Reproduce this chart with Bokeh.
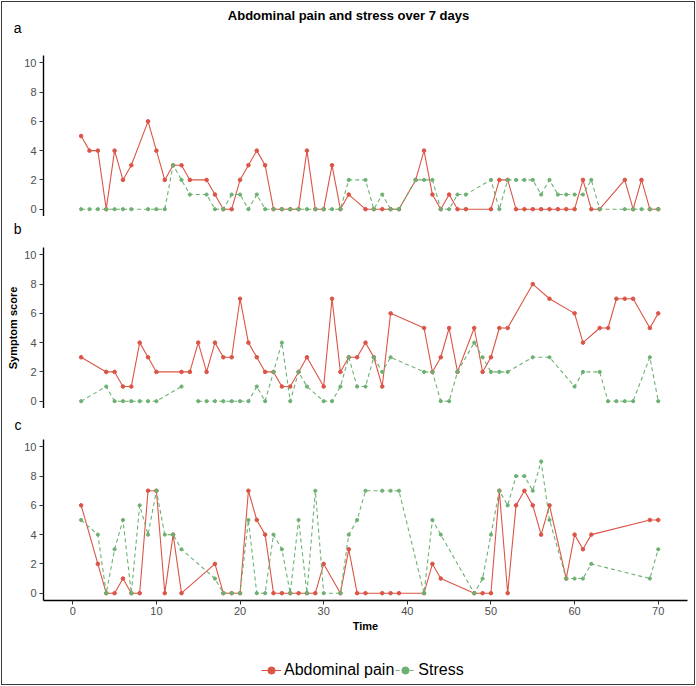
from bokeh.plotting import figure
from bokeh.models import Label, Legend, LegendItem, FixedTicker, Range1d
from bokeh.layouts import column
from bokeh.embed import file_html
from bokeh.resources import INLINE

nan = float("nan")

# ---------------- data ----------------
time_a = [1, 2, 3, 4, 5, 6, 7, 9, 10, 11, 12, 13, 14, 16, 17, 18, 19, 20, 21, 22, 23, 24,
          25, 26, 27, 28, 29, 30, 31, 32, 33, 35, 36, 37, 38, 39, 41, 42, 43, 44, 45, 46,
          47, 50, 51, 52, 53, 54, 55, 56, 57, 58, 59, 60, 61, 62, 63, 66, 67, 68, 69, 70]
pain_a = [5, 4, 4, 0, 4, 2, 3, 6, 4, 2, 3, 3, 2, 2, 1, 0, 0, 2, 3, 4, 3, 0,
          0, 0, 0, 4, 0, 0, 3, 0, 1, 0, 0, 0, 0, 0, 2, 4, 1, 0, 1, 0,
          0, 0, 2, 2, 0, 0, 0, 0, 0, 0, 0, 0, 2, 0, 0, 2, 0, 2, 0, 0]
stress_a = [0, 0, 0, 0, 0, 0, 0, 0, 0, 0, 3, 2, 1, 1, 0, 0, 1, 1, 0, 1, 0, 0,
            0, 0, 0, 0, 0, 0, 0, 0, 2, 2, 0, 1, 0, 0, 2, 2, 2, 0, 0, 1,
            1, 2, 0, 2, 2, 2, 2, 1, 2, 1, 1, 1, 1, 2, 0, 0, 0, 0, 0, 0]

time_b = [1, 4, 5, 6, 7, 8, 9, 10, 13, 14, 15, 16, 17, 18, 19, 20, 21, 22, 23, 24, 25,
          26, 27, 28, 30, 31, 32, 33, 34, 35, 36, 37, 38, 42, 43, 44, 45, 46, 48, 49,
          50, 51, 52, 55, 57, 60, 61, 63, 64, 65, 66, 67, 69, 70]
pain_b = [3, 2, 2, 1, 1, 4, 3, 2, 2, 2, 4, 2, 4, 3, 3, 7, 4, 3, 2, 2, 1,
          1, 2, 3, 1, 7, 2, 3, 3, 4, 3, 1, 6, 5, 2, 3, 5, 2, 5, 2,
          3, 5, 5, 8, 7, 6, 4, 5, 5, 7, 7, 7, 5, 6]
stress_b = [0, 1, 0, 0, 0, 0, 0, 0, 1, nan, 0, 0, 0, 0, 0, 0, 0, 1, 0, 2, 4,
            0, 2, 1, 0, 0, 1, 3, 1, 1, 3, 2, 3, 2, 2, 0, 0, 2, 4, 3,
            2, 2, 2, 3, 3, 1, 2, 2, 0, 0, 0, 0, 3, 0]

time_c = [1, 3, 4, 5, 6, 7, 8, 9, 10, 11, 12, 13, 17, 18, 19, 20, 21, 22, 23, 24, 25,
          26, 27, 28, 29, 30, 32, 33, 34, 35, 37, 38, 39, 42, 43, 44, 48, 49, 50, 51,
          52, 53, 54, 55, 56, 57, 59, 60, 61, 62, 69, 70]
pain_c = [6, 2, 0, 0, 1, 0, 0, 7, 7, 0, 4, 0, 2, 0, 0, 0, 7, 5, 4, 0, 0,
          0, 0, 0, 0, 2, 0, 3, 0, 0, 0, 0, 0, 0, 2, 1, 0, 0, 0, 7,
          0, 6, 7, 6, 4, 6, 1, 4, 3, 4, 5, 5]
stress_c = [5, 4, 0, 3, 5, 0, 6, 4, 7, 4, 4, 3, 1, 0, 0, 0, 5, 0, 0, 4, 3,
            0, 5, 0, 7, 0, 0, 4, 5, 7, 7, 7, 7, 0, 5, 4, 0, 1, 4, 7,
            6, 8, 8, 7, 9, 5, 1, 1, 1, 2, 1, 3]

y_ticks = [0, 2, 4, 6, 8, 10]
x_ticks = [0, 10, 20, 30, 40, 50, 60, 70]
panel_labels = ["a", "b", "c"]
title_text = "Abdominal pain and stress over 7 days"
series_names = ["Abdominal pain", "Stress"]

RED = "#DB5546"
GREEN = "#6DB172"
FONT = "Liberation Sans"
W = 696
FL, FR = 43, 687   # frame left / right in page pixels


def clear_fill(p):
    p.border_fill_alpha = 0
    p.background_fill_alpha = 0
    p.outline_line_color = None
    p.grid.visible = False


def style_axis(ax, standoff):
    ax.axis_line_color = "black"
    ax.axis_line_width = 1.4
    ax.major_tick_line_color = "#333333"
    ax.major_tick_line_width = 1
    ax.major_tick_out = 4
    ax.major_tick_in = 0
    ax.minor_tick_line_color = None
    ax.major_label_text_color = "#4d4d4d"
    ax.major_label_text_font = FONT
    ax.major_label_text_font_size = "11px"
    ax.major_label_standoff = standoff
    ax.axis_label_text_font = FONT
    ax.axis_label_text_font_style = "bold"
    ax.axis_label_text_font_size = "11px"
    ax.axis_label_text_color = "black"


def make_panel(height, bottom, show_x):
    p = figure(width=W, height=height,
               x_range=Range1d(-3.5, 73.5), y_range=Range1d(-0.5, 10.5),
               output_backend="svg", toolbar_location=None,
               x_axis_location="below" if show_x else None,
               min_border_left=FL, min_border_right=W - FR,
               min_border_top=0, min_border_bottom=bottom)
    clear_fill(p)
    p.yaxis.ticker = FixedTicker(ticks=y_ticks)
    style_axis(p.yaxis[0], 3)
    if show_x:
        p.xaxis.ticker = FixedTicker(ticks=x_ticks)
        style_axis(p.xaxis[0], 2)
    return p


def add_series(p, t, pain, stress, y_range_name="default"):
    r1 = p.line(t, pain, line_color=RED, line_width=1.1, y_range_name=y_range_name)
    r2 = p.scatter(t, pain, size=3.6, fill_color=RED, line_color=RED, y_range_name=y_range_name)
    r3 = p.line(t, stress, line_color=GREEN, line_width=1.1, line_dash="4 3", y_range_name=y_range_name)
    r4 = p.scatter(t, stress, size=3.2, fill_color=GREEN, line_color=GREEN, y_range_name=y_range_name)
    return [r1, r2], [r3, r4]


def strip(height, label=None, label_y=None):
    # a strip whose y data coordinate is its own pixel row (from the top);
    # a panel letter is shown as the single tick label of a hidden left axis
    p = figure(width=W, height=height, x_range=Range1d(FL, FR),
               y_range=Range1d(height, 0),
               output_backend="svg", toolbar_location=None,
               x_axis_location=None,
               y_axis_location="left" if label else None,
               min_border_left=FL, min_border_right=W - FR,
               min_border_top=0, min_border_bottom=0)
    clear_fill(p)
    if label:
        ax = p.yaxis[0]
        ax.ticker = FixedTicker(ticks=[label_y])
        ax.major_label_overrides = {label_y: label}
        ax.axis_line_color = None
        ax.major_tick_line_color = None
        ax.minor_tick_line_color = None
        ax.major_tick_out = 0
        ax.major_label_standoff = FL - 21
        ax.major_label_text_font = FONT
        ax.major_label_text_font_size = "14px"
        ax.major_label_text_color = "black"
    return p


# top strip: main title + "a"
s_top = strip(55, panel_labels[0], 27)
s_top.add_layout(Label(x=348, y=15, text=title_text, text_font=FONT, text_font_size="13px",
                       text_font_style="bold", text_color="black",
                       text_align="center", text_baseline="middle"))

pa = make_panel(161, 0, False)
add_series(pa, time_a, pain_a, stress_a)

s_ab = strip(31, panel_labels[1], 12)

pb = make_panel(161, 0, False)
add_series(pb, time_b, pain_b, stress_b)
pb.yaxis.axis_label = "Symptom score"
pb.yaxis.axis_label_standoff = 2

s_bc = strip(31, panel_labels[2], 16)

pc = make_panel(201, 40, True)
add_series(pc, time_c, pain_c, stress_c)
pc.xaxis.axis_label = "Time"
pc.xaxis.axis_label_standoff = 2

# legend strip (its renderers draw the panel-c series on an off-screen range)
s_leg = strip(46)
s_leg.x_range = Range1d(-3.5, 73.5)
s_leg.y_range = Range1d(0, 46)
s_leg.extra_y_ranges = {"off": Range1d(100, 110)}
red_r, green_r = add_series(s_leg, time_c, pain_c, stress_c, y_range_name="off")
legend = Legend(items=[LegendItem(label=series_names[0], renderers=red_r),
                       LegendItem(label=series_names[1], renderers=green_r)],
                orientation="horizontal", location=(261 - FL, 7),
                label_text_font=FONT, label_text_font_size="16px",
                label_text_color="black",
                glyph_width=20, glyph_height=18, label_height=18,
                label_standoff=3, spacing=1, padding=2, margin=0,
                border_line_color=None, background_fill_alpha=0)
s_leg.add_layout(legend, "center")

layout = column(s_top, pa, s_ab, pb, s_bc, pc, s_leg, spacing=0,
                styles={"outline": "1.5px solid #3a3a3a", "outline-offset": "-2px",
                        "background-color": "white"})

with open("out.html", "w") as f:
    f.write(file_html(layout, INLINE))
